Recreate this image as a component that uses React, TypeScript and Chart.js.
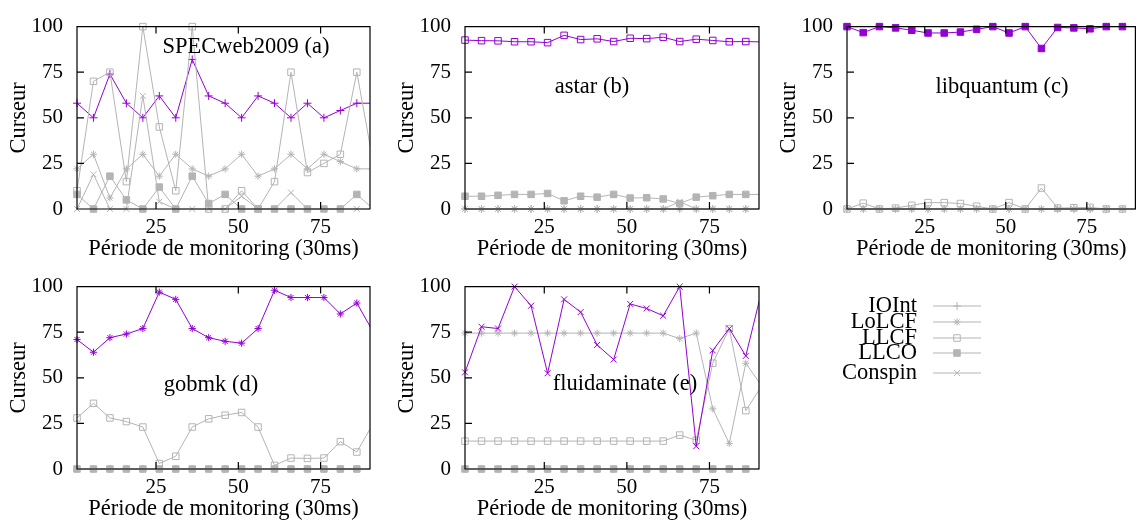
import React, { useEffect, useRef } from "react";
import { Chart, registerables } from "chart.js";
import { drawPoint } from "chart.js/helpers";

Chart.register(...registerables);

const FONT_FAMILY = "'Liberation Serif', 'DejaVu Serif', serif";
const PURPLE = "#9400d3";
const GREY = "#b4b4b4";

// ---------- data ----------
const periods = [1, 6, 11, 16, 21, 26, 31, 36, 41, 46, 51, 56, 61, 66, 71, 76, 81, 86, 91];
const xTickValues = [25, 50, 75];
const yTickValues = [0, 25, 50, 75, 100];
const seriesNames = ["IOInt", "LoLCF", "LLCF", "LLCO", "Conspin"];
const xAxisLabel = "Période de monitoring (30ms)";
const yAxisLabel = "Curseur";

// (a) SPECweb2009
const specwebIOInt = [58, 50, 74, 58, 50, 62, 50, 82, 62, 58, 50, 62, 58, 50, 58, 50, 54, 58, 58];
const specwebLoLCF = [22, 30, 6, 22, 30, 18, 30, 22, 18, 22, 30, 18, 22, 30, 22, 30, 26, 22, 22];
const specwebLLCF = [10, 70, 75, 15, 100, 45, 10, 100, 0, 0, 10, 0, 15, 75, 20, 25, 30, 75, 25];
const specwebLLCO = [8, 0, 18, 5, 0, 12, 0, 18, 3, 8, 0, 0, 0, 0, 0, 0, 0, 8, 0];
const specwebConspin = [0, 19, 0, 0, 62, 4, 0, 0, 0, 0, 7, 0, 0, 9, 0, 0, 0, 0, 0];

// (b) astar
const astarIOInt = [0, 0, 0, 0, 0, 0, 0, 0, 0, 0, 0, 0, 0, 0, 0, 0, 0, 0, 0];
const astarLoLCF = [0, 0, 0, 0, 0, 0, 0, 0, 0, 0, 0, 0, 0, 0, 0, 0, 0, 0, 0];
const astarLLCF = [92.6, 92.3, 92.2, 91.7, 91.7, 91.2, 95.2, 92.9, 93.3, 91.8, 93.6, 93.4, 94.2, 91.8, 93.1, 92.4, 91.7, 91.8, 91.6];
const astarLLCO = [7, 7, 7.5, 8, 8, 8.5, 4.5, 7, 6.5, 8, 6, 6.2, 5.5, 3, 6.5, 7.3, 8, 8, 8];
const astarConspin = [0, 0, 0, 0, 0, 0, 0, 0, 0, 0, 0, 0, 0, 4, 0, 0, 0, 0, 0];

// (c) libquantum
const libqIOInt = [0, 0, 0, 0, 0, 0, 0, 0, 0, 0, 0, 0, 0, 0, 0, 0, 0, 0, 0];
const libqLoLCF = [0, 0, 0, 0, 0, 0, 0, 0, 0, 0, 0, 0, 0, 0, 0, 0, 0, 0, 0];
const libqLLCF = [0, 3.2, 0, 0.5, 2, 3.5, 3.5, 3, 1.5, 0, 3.5, 0, 11.5, 0.5, 0.7, 0.9, 0, 0, 0];
const libqLLCO = [100, 96.7, 100, 99.3, 98, 96.5, 96.5, 97, 98.5, 100, 96.5, 100, 88, 99.5, 99.3, 98.8, 100, 100, 100];
const libqConspin = [0, 0, 0, 0, 0, 0, 0, 0, 0, 0, 0, 0, 0, 0, 0, 0, 0, 0, 0];

// (d) gobmk
const gobmkIOInt = [0, 0, 0, 0, 0, 0, 0, 0, 0, 0, 0, 0, 0, 0, 0, 0, 0, 0, 0];
const gobmkLoLCF = [71, 64, 72, 74, 77, 97, 93, 77, 72, 70, 69, 77, 98, 94, 94, 94, 85, 91, 75];
const gobmkLLCF = [28, 36, 28, 26, 23, 3, 7, 23, 27.5, 29.5, 31, 23, 2, 6, 5.8, 6, 15, 9.3, 25];
const gobmkLLCO = [0, 0, 0, 0, 0, 0, 0, 0, 0, 0, 0, 0, 0, 0, 0, 0, 0, 0, 0];
const gobmkConspin = [0, 0, 0, 0, 0, 0, 0, 0, 0, 0, 0, 0, 0, 0, 0, 0, 0, 0, 0];

// (e) fluidaminate
const fluidIOInt = [0, 0, 0, 0, 0, 0, 0, 0, 0, 0, 0, 0, 0, 0, 0, 0, 0, 0, 0];
const fluidLoLCF = [74.5, 74.5, 74.5, 74.5, 74.5, 74.5, 74.5, 74.5, 74.5, 74.5, 74.5, 74.5, 74.5, 71.5, 74.5, 33, 14, 58, 45];
const fluidLLCF = [15.3, 15.3, 15.3, 15.3, 15.3, 15.3, 15.3, 15.3, 15.3, 15.3, 15.3, 15.3, 15.3, 18.6, 15.8, 58, 77, 32, 46];
const fluidLLCO = [0, 0, 0, 0, 0, 0, 0, 0, 0, 0, 0, 0, 0, 0, 0, 0, 0, 0, 0];
const fluidConspin = [53, 78, 77, 100, 89.5, 52.5, 93, 86, 68, 60, 90.5, 88, 84, 100, 12.5, 65, 77, 62, 99];

// ---------- styles ----------
type Marker = { pointStyle: string; radius: number; filled: boolean };
const markers: Record<string, Marker> = {
  IOInt: { pointStyle: "cross", radius: 4, filled: false },
  LoLCF: { pointStyle: "star", radius: 3.6, filled: false },
  LLCF: { pointStyle: "rect", radius: 4.6, filled: false },
  LLCO: { pointStyle: "rect", radius: 4.6, filled: true },
  Conspin: { pointStyle: "crossRot", radius: 4.2, filled: false },
};

type PanelDef = {
  id: string;
  title: string;
  highlight: string;
  series: number[][];
  left: number;
  top: number;
  width: number;
  padRight: number;
  labelX: number;
  labelY: number;
};

const panels: PanelDef[] = [
  { id: "a", title: "SPECweb2009 (a)", highlight: "IOInt", series: [specwebIOInt, specwebLoLCF, specwebLLCF, specwebLLCO, specwebConspin], left: 0, top: 0, width: 380, padRight: 10, labelX: 246, labelY: 47 },
  { id: "b", title: "astar (b)", highlight: "LLCF", series: [astarIOInt, astarLoLCF, astarLLCF, astarLLCO, astarConspin], left: 388, top: 0, width: 380, padRight: 9, labelX: 204, labelY: 87 },
  { id: "c", title: "libquantum (c)", highlight: "LLCO", series: [libqIOInt, libqLoLCF, libqLLCF, libqLLCO, libqConspin], left: 770, top: 0, width: 371, padRight: 1, labelX: 232, labelY: 87 },
  { id: "d", title: "gobmk (d)", highlight: "LoLCF", series: [gobmkIOInt, gobmkLoLCF, gobmkLLCF, gobmkLLCO, gobmkConspin], left: 0, top: 260, width: 380, padRight: 10, labelX: 211, labelY: 125 },
  { id: "e", title: "fluidaminate (e)", highlight: "Conspin", series: [fluidIOInt, fluidLoLCF, fluidLLCF, fluidLLCO, fluidConspin], left: 388, top: 260, width: 380, padRight: 9, labelX: 237, labelY: 124 },
];

const X_MIN = 1;
const X_MAX = 90;
const TICK_LEN = 7;

const framePlugin = {
  id: "gnuFrame",
  afterDatasetsDraw(chart: any) {
    const { ctx, chartArea } = chart;
    const { left, right, top, bottom } = chartArea;
    const xs = chart.scales.x;
    const ys = chart.scales.y;
    ctx.save();
    ctx.strokeStyle = "#000";
    ctx.lineWidth = 1.2;
    ctx.beginPath();
    ctx.rect(left, top, right - left, bottom - top);
    for (const v of xTickValues) {
      const px = xs.getPixelForValue(v);
      ctx.moveTo(px, bottom);
      ctx.lineTo(px, bottom - TICK_LEN);
      ctx.moveTo(px, top);
      ctx.lineTo(px, top + TICK_LEN);
    }
    for (const v of yTickValues) {
      const py = ys.getPixelForValue(v);
      ctx.moveTo(left, py);
      ctx.lineTo(left + TICK_LEN, py);
    }
    ctx.stroke();
    ctx.restore();
  },
};

function Panel({ def }: { def: PanelDef }) {
  const ref = useRef<HTMLCanvasElement>(null);
  useEffect(() => {
    const datasets = seriesNames.map((name, i) => {
      const m = markers[name];
      const color = name === def.highlight ? PURPLE : GREY;
      const values = def.series[i];
      return {
        label: name,
        data: periods.map((p, k) => ({ x: p, y: values[k] })),
        borderColor: color,
        backgroundColor: color,
        borderWidth: 1,
        pointStyle: m.pointStyle,
        pointRadius: (ctx: any) => (ctx.raw && ctx.raw.x > X_MAX ? 0 : m.radius),
        pointBorderColor: color,
        pointBackgroundColor: m.filled ? color : "rgba(0,0,0,0)",
        pointBorderWidth: 1,
        tension: 0,
        order: -i,
        clip: { left: 8, top: 8, right: 0, bottom: 8 },
      };
    });

    const labelPlugin = {
      id: "panelLabel",
      afterDraw(chart: any) {
        const ctx = chart.ctx;
        ctx.save();
        ctx.font = `22.5px ${FONT_FAMILY}`;
        ctx.fillStyle = "#000";
        ctx.textAlign = "center";
        ctx.textBaseline = "middle";
        ctx.fillText(def.title, def.labelX, def.labelY);
        ctx.restore();
      },
    };

    const chart = new Chart(ref.current as HTMLCanvasElement, {
      type: "line",
      data: { datasets } as any,
      options: {
        responsive: false,
        animation: false,
        events: [],
        layout: { padding: { left: 0, right: def.padRight, top: 19, bottom: 0 } },
        plugins: { legend: { display: false }, tooltip: { enabled: false } },
        scales: {
          x: {
            type: "linear",
            min: X_MIN,
            max: X_MAX,
            afterBuildTicks: (s: any) => {
              s.ticks = xTickValues.map((v) => ({ value: v }));
            },
            afterFit: (s: any) => {
              s.height = 51;
            },
            grid: { display: false, drawTicks: false },
            border: { display: false },
            ticks: {
              font: { family: FONT_FAMILY, size: 21 },
              color: "#000",
              padding: 6,
              maxRotation: 0,
              autoSkip: false,
              callback: (v: any) => String(v),
            },
            title: {
              display: true,
              text: xAxisLabel,
              font: { family: FONT_FAMILY, size: 22.5, lineHeight: 1.0 },
              color: "#000",
              padding: { top: 0, bottom: 0 },
            },
          },
          y: {
            type: "linear",
            min: 0,
            max: 100,
            afterBuildTicks: (s: any) => {
              s.ticks = yTickValues.map((v) => ({ value: v }));
            },
            afterFit: (s: any) => {
              s.width = 77;
            },
            grid: { display: false, drawTicks: false },
            border: { display: false },
            ticks: {
              font: { family: FONT_FAMILY, size: 21 },
              color: "#000",
              padding: 14,
              autoSkip: false,
              callback: (v: any) => String(v),
            },
            title: {
              display: true,
              text: yAxisLabel,
              font: { family: FONT_FAMILY, size: 22.5 },
              color: "#000",
              padding: { top: 6, bottom: 0 },
            },
          },
        },
      } as any,
      plugins: [framePlugin, labelPlugin],
    });
    return () => chart.destroy();
  }, [def]);

  return (
    <canvas
      ref={ref}
      width={def.width}
      height={260}
      style={{ position: "absolute", left: def.left, top: def.top, width: def.width, height: 260 }}
    />
  );
}

function Legend() {
  const ref = useRef<HTMLCanvasElement>(null);
  useEffect(() => {
    const rowY = [46, 62, 78, 93, 113];
    const keyPlugin = {
      id: "keyBox",
      afterDraw(chart: any) {
        const ctx = chart.ctx;
        ctx.save();
        ctx.font = `22.5px ${FONT_FAMILY}`;
        ctx.textAlign = "right";
        ctx.textBaseline = "middle";
        seriesNames.forEach((name, i) => {
          const y = rowY[i];
          ctx.fillStyle = "#000";
          ctx.fillText(name, 147, y);
          ctx.strokeStyle = GREY;
          ctx.lineWidth = 1;
          ctx.beginPath();
          ctx.moveTo(163, y);
          ctx.lineTo(211, y);
          ctx.stroke();
          const m = markers[name];
          ctx.fillStyle = m.filled ? GREY : "rgba(0,0,0,0)";
          ctx.strokeStyle = GREY;
          drawPoint(ctx, { pointStyle: m.pointStyle as any, radius: m.radius, rotation: 0, borderWidth: 1 } as any, 187, y);
        });
        ctx.restore();
      },
    };
    const chart = new Chart(ref.current as HTMLCanvasElement, {
      type: "line",
      data: { datasets: [] },
      options: {
        responsive: false,
        animation: false,
        events: [],
        plugins: { legend: { display: false }, tooltip: { enabled: false } },
        scales: { x: { display: false }, y: { display: false } },
      } as any,
      plugins: [keyPlugin],
    });
    return () => chart.destroy();
  }, []);
  return (
    <canvas
      ref={ref}
      width={371}
      height={260}
      style={{ position: "absolute", left: 770, top: 260, width: 371, height: 260 }}
    />
  );
}

export default function App() {
  return (
    <div style={{ position: "absolute", left: 0, top: 0, width: 1141, height: 522, background: "#fff" }}>
      {panels.map((p) => (
        <Panel key={p.id} def={p} />
      ))}
      <Legend />
    </div>
  );
}
